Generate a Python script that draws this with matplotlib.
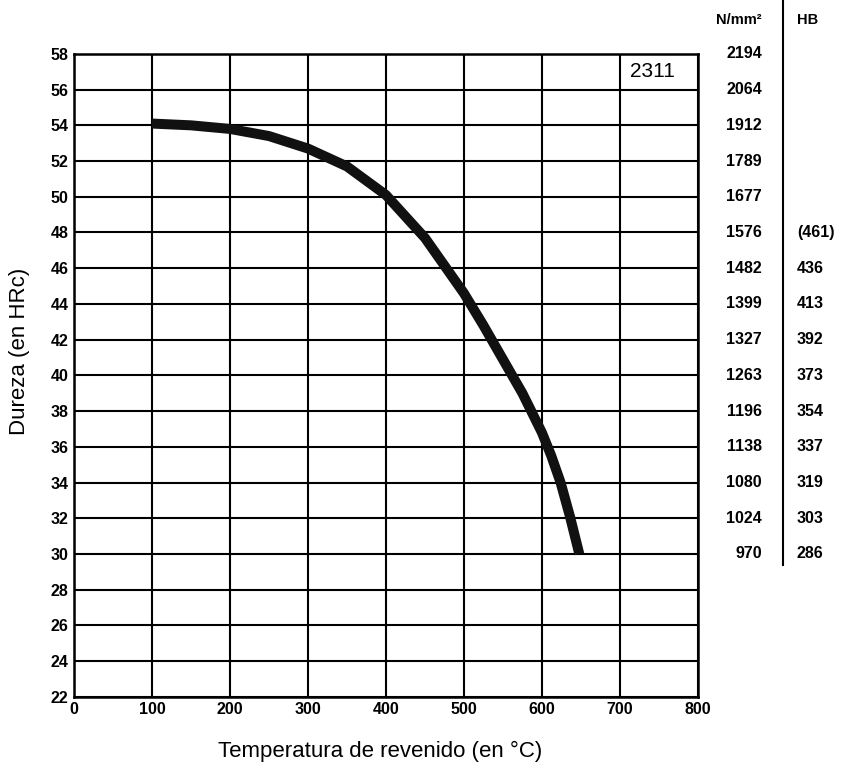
import matplotlib
matplotlib.use("Agg")
import matplotlib.pyplot as plt

# tempering curve (temperature in C, hardness in HRc)
temp = [100, 150, 200, 250, 300, 350, 400, 450, 500, 525, 550, 575, 600,
        612, 624, 636, 648]
hrc = [54.1, 54.0, 53.8, 53.4, 52.7, 51.7, 50.1, 47.7, 44.6, 42.8, 40.9,
       39.0, 36.8, 35.5, 34.0, 32.1, 30.0]

# conversion table on the right side
conv_hrc = [58, 56, 54, 52, 50, 48, 46, 44, 42, 40, 38, 36, 34, 32, 30]
conv_nmm = ["2194", "2064", "1912", "1789", "1677", "1576", "1482", "1399",
            "1327", "1263", "1196", "1138", "1080", "1024", "970"]
conv_hb = ["", "", "", "", "", "(461)", "436", "413",
           "392", "373", "354", "337", "319", "303", "286"]

xticks = list(range(0, 801, 100))
yticks = list(range(22, 59, 2))

plt.rcParams['font.family'] = ['Liberation Sans', 'DejaVu Sans']

fig = plt.figure(figsize=(8.43, 7.70), dpi=100)
ax = fig.add_axes([0.0878, 0.095, 0.740, 0.835])

ax.set_xlim(0, 800)
ax.set_ylim(22, 58)
ax.set_xticks(xticks)
ax.set_yticks(yticks)
ax.tick_params(length=0, pad=4, labelsize=11.5)
for lab in ax.get_xticklabels() + ax.get_yticklabels():
    lab.set_fontweight('bold')

# grid
ax.grid(True, color='black', linewidth=1.5)
ax.set_axisbelow(True)
for sp in ax.spines.values():
    sp.set_linewidth(1.8)

# the curve
ax.plot(temp, hrc, color='#111111', linewidth=7.2, solid_capstyle='butt',
        solid_joinstyle='round', zorder=3)

# steel grade label in the top right cell
ax.text(713, 57.0, "2311", fontsize=15, va='center', ha='left')

# conversion columns
for h, n, b in zip(conv_hrc, conv_nmm, conv_hb):
    ax.text(882, h, n, fontsize=11.5, fontweight='bold', ha='right',
            va='center', clip_on=False)
    if b:
        ax.text(927, h, b, fontsize=11.5, fontweight='bold', ha='left',
                va='center', clip_on=False)

ax.text(882, 59.9, "N/mm²", fontsize=10.5, fontweight='bold', ha='right',
        va='center', clip_on=False)
ax.text(927, 59.9, "HB", fontsize=10.5, fontweight='bold', ha='left',
        va='center', clip_on=False)
ax.plot([909, 909], [61.1, 29.4], color='black', linewidth=1.5,
        clip_on=False)

ax.set_xlabel("Temperatura de revenido (en °C)", fontsize=16)
ax.set_ylabel("Dureza (en HRc)", fontsize=16)
ax.xaxis.set_label_coords(0.49, -0.068)
ax.yaxis.set_label_coords(-0.0705, 0.537)

fig.savefig("out.png", dpi=100, facecolor='white')
plt.close()
